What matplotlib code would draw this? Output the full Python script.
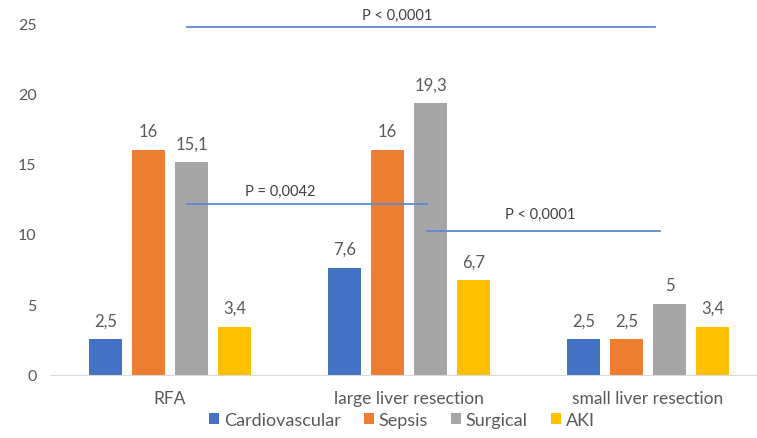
import numpy as np
import matplotlib.pyplot as plt

plt.rcParams['font.family'] = ['Lato', 'DejaVu Sans']

groups = ['RFA', 'large liver resection', 'small liver resection']
series = ['Cardiovascular', 'Sepsis', 'Surgical', 'AKI']
values = {
    'Cardiovascular': [2.5, 7.6, 2.5],
    'Sepsis': [16, 16, 2.5],
    'Surgical': [15.1, 19.3, 5],
    'AKI': [3.4, 6.7, 3.4],
}
colors = ['#4472C4', '#ED7D31', '#A5A5A5', '#FFC000']

# significance lines: (x start, x end, y, label, label x, label y) in data units
p_lines = [
    (0.07, 2.03, 24.7, 'P < 0,0001', 0.95, 25.6),
    (0.07, 1.075, 12.1, 'P = 0,0042', 0.46, 13.1),
    (1.075, 2.05, 10.2, 'P < 0,0001', 1.548, 11.4),
]

txt = '#595959'
fig = plt.figure(figsize=(7.57, 4.39), dpi=100)
ax = fig.add_axes([50.5 / 757, (439 - 375.5) / 439, 717 / 757, 26.5 * 14.05 / 439])

x = np.arange(len(groups))
step = 0.18
width = 0.142
for i, (name, c) in enumerate(zip(series, colors)):
    vals = values[name]
    bars = ax.bar(x + (i - 1.5) * step, vals, width, color=c, label=name)
    ax.bar_label(bars, labels=[f'{v:g}'.replace('.', ',') for v in vals],
                 padding=8, fontsize=12, color=txt)

for x0, x1, y, lab, tx, ty in p_lines:
    ax.plot([x0, x1], [y, y], color='#5B8BD0', lw=1.3)
    ax.text(tx, ty, lab, ha='center', va='center', fontsize=10.5, color='#404040')

ax.set_xlim(-0.5, 2.5)
ax.set_ylim(0, 26.5)
ax.set_yticks([0, 5, 10, 15, 20, 25])
ax.set_xticks(x)
ax.set_xticklabels(groups, fontsize=12.5)
for s in ['top', 'right', 'left']:
    ax.spines[s].set_visible(False)
ax.spines['bottom'].set_color('#D9D9D9')
ax.tick_params(axis='both', length=0, labelsize=11.5, colors=txt, pad=10)
ax.tick_params(axis='x', pad=11, labelsize=12.5)

ax.legend(loc='lower center', bbox_to_anchor=(402 / 757, -0.005), bbox_transform=fig.transFigure,
          ncol=4, frameon=False, fontsize=13, handlelength=0.55, handleheight=0.55,
          handletextpad=0.25, columnspacing=1.3, labelcolor=txt, borderpad=0.2)

fig.savefig('out.png', dpi=100)
